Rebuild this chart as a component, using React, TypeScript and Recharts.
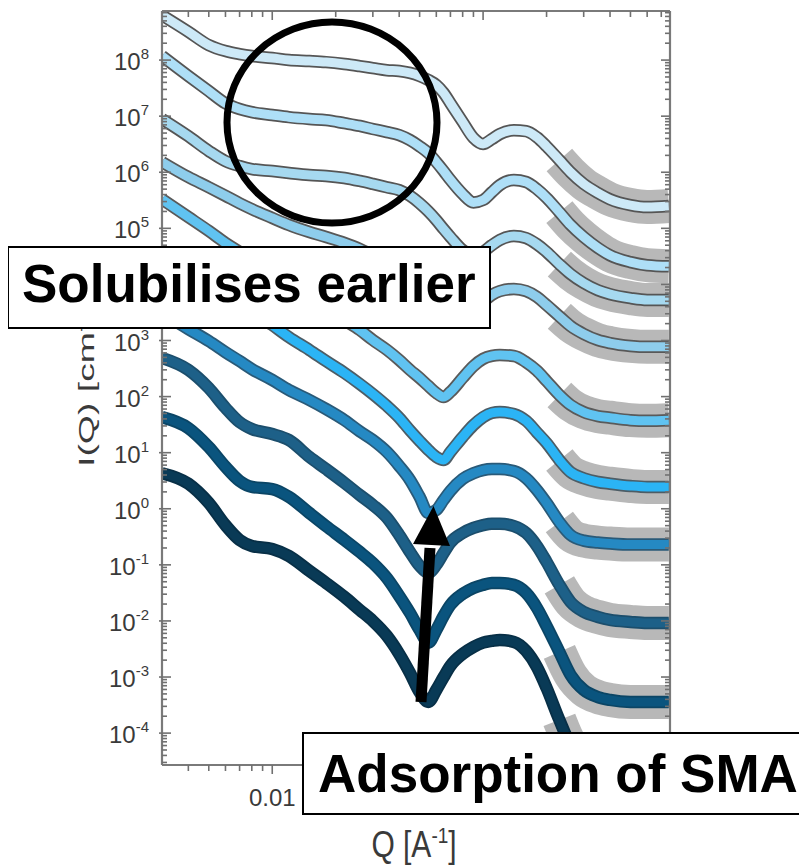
import React from 'react';
import { LineChart, Line, XAxis, YAxis } from 'recharts';

// Scattering vector Q [1/Å]
const Q = [0.003, 0.004, 0.005, 0.006, 0.007, 0.008, 0.01, 0.012, 0.015, 0.018,
  0.022, 0.026, 0.03, 0.035, 0.04, 0.045, 0.05, 0.055, 0.06, 0.065,
  0.07, 0.08, 0.09, 0.1, 0.11, 0.12, 0.14, 0.16, 0.18, 0.2,
  0.23, 0.26, 0.3, 0.35, 0.4, 0.5, 0.6, 0.76];

// Intensities I(Q) [1/cm], top curve first (offset curves)
const C1 = [6.3e8, 3.2e8, 1.85e8, 1.45e8, 1.28e8, 1.18e8, 1.09e8, 1.0e8, 9.6e7, 9.2e7,
  8.5e7, 7.8e7, 7.2e7, 6.6e7, 6.4e7, 5.9e7, 5.2e7, 4.4e7, 3.6e7, 2.6e7,
  1.7e7, 7.9e6, 4.1e6, 3.2e6, 3.9e6, 4.8e6, 5.6e6, 5.4e6, 4.2e6, 2.9e6,
  1.65e6, 1.0e6, 6.2e5, 4.3e5, 3.3e5, 2.6e5, 2.4e5, 2.5e5];
const C2 = [1.18e8, 5.2e7, 2.8e7, 1.7e7, 1.34e7, 1.18e7, 1.05e7, 9.6e6, 8.9e6, 8.5e6,
  7.5e6, 6.7e6, 5.9e6, 5.2e6, 4.6e6, 3.75e6, 2.9e6, 2.2e6, 1.52e6, 1.05e6,
  7.3e5, 4.1e5, 2.9e5, 3.2e5, 4.4e5, 5.9e5, 7.3e5, 6.7e5, 5.0e5, 3.5e5,
  1.95e5, 1.15e5, 7.0e4, 4.5e4, 3.3e4, 2.5e4, 2.2e4, 2.1e4];
const C3 = [8.9e6, 4.4e6, 2.4e6, 1.58e6, 1.29e6, 1.14e6, 1.05e6, 9.7e5, 8.9e5, 8.6e5,
  7.9e5, 7.0e5, 6.2e5, 5.4e5, 4.8e5, 3.8e5, 2.8e5, 2.0e5, 1.4e5, 9.7e4,
  7.0e4, 4.1e4, 3.3e4, 3.8e4, 5.0e4, 6.2e4, 7.3e4, 6.7e4, 5.2e4, 3.8e4,
  2.3e4, 1.53e4, 1.06e4, 7.9e3, 6.7e3, 5.7e3, 5.3e3, 5.3e3];
const C4 = [1.52e6, 8.2e5, 5.4e5, 3.8e5, 2.8e5, 2.2e5, 1.53e5, 1.15e5, 8.6e4, 7.0e4,
  5.5e4, 4.3e4, 3.3e4, 2.5e4, 1.81e4, 1.3e4, 9.4e3, 7.0e3, 5.5e3, 4.3e3,
  3.5e3, 3.0e3, 3.5e3, 4.9e3, 6.5e3, 7.6e3, 8.3e3, 7.6e3, 6.0e3, 4.3e3,
  2.7e3, 1.81e3, 1.31e3, 1.02e3, 900, 800, 770, 770];
const C5 = [3.3e5, 1.59e5, 9.0e4, 5.5e4, 3.8e4, 2.7e4, 1.6e4, 1.02e4, 6.0e3, 3.8e3,
  2.3e3, 1.54e3, 1.02e3, 680, 450, 300, 215, 155, 116, 98,
  121, 215, 350, 470, 530, 550, 530, 410, 290, 190,
  107, 71, 53, 45, 42, 38, 37, 38];
const C6 = [3.0e4, 1.66e4, 1.02e4, 6.7e3, 4.7e3, 3.4e3, 1.89e3, 1.15e3, 680, 430,
  264, 168, 111, 68, 42, 25, 16.2, 11.2, 8.4, 7.4,
  10.3, 19, 31, 43, 51, 53, 49, 37, 23, 14.9,
  7.4, 4.5, 3.5, 3.0, 2.8, 2.55, 2.45, 2.45];
const C7 = [3.1e3, 1.6e3, 980, 620, 430, 310, 198, 131, 87, 60,
  38, 24, 16.8, 10.3, 5.8, 3.26, 1.63, 0.84, 0.95, 1.44,
  2.08, 3.4, 4.3, 4.9, 5.1, 5.1, 4.7, 3.5, 2.16, 1.27,
  0.58, 0.34, 0.27, 0.25, 0.24, 0.23, 0.23, 0.23];
const C8 = [490, 300, 142, 63, 35, 26.5, 21.5, 16.8, 8.4, 5.1,
  2.9, 1.76, 1.17, 0.69, 0.34, 0.17, 0.096, 0.072, 0.1, 0.163,
  0.25, 0.37, 0.455, 0.51, 0.54, 0.54, 0.49, 0.37, 0.217, 0.113,
  0.044, 0.0218, 0.0145, 0.0118, 0.0104, 0.0096, 0.0092, 0.0092];
const C9 = [43, 27.5, 12.6, 5.6, 3.13, 2.45, 2.25, 1.63, 0.84, 0.49,
  0.278, 0.17, 0.108, 0.058, 0.0279, 0.0139, 0.0069, 0.0041, 0.0069, 0.0123,
  0.0193, 0.0303, 0.0388, 0.044, 0.0476, 0.0476, 0.044, 0.0316, 0.0171, 0.0081,
  0.0028, 0.00109, 5.9e-4, 4.4e-4, 3.9e-4, 3.6e-4, 3.6e-4, 3.6e-4];
const C10 = [4.3, 2.8, 1.27, 0.51, 0.278, 0.217, 0.192, 0.144, 0.078, 0.0476,
  0.0268, 0.0157, 0.01, 0.0054, 0.00258, 0.00118, 5.4e-4, 3.6e-4, 5.9e-4, 0.001,
  0.00158, 0.00258, 0.00344, 0.0041, 0.0044, 0.00459, 0.00423, 0.00292, 0.00151, 6.4e-4,
  1.72e-4, 6.2e-5, 4.1e-5, 3.6e-5, 3.6e-5, 3.6e-5, 3.6e-5, 3.6e-5];

const SERIES = [C1, C2, C3, C4, C5, C6, C7, C8, C9, C10];
const COLORS = ['#cde9f7', '#aedff7', '#a6d9f0', '#8ecdec', '#60c3f1', '#2bb4f5',
  '#2589c3', '#1d6088', '#0a547e', '#093a56'];
const OUTLINES = ['#555555', '#555555', '#555555', '#585858', '#5a5a5a', '#4d5d66',
  '#2a5a78', '#1c4e6c', '#0b4565', '#082f46'];
const NOISE_FROM = 0.22; // noisy (grey) region at high Q

const X_MAJOR = [0.01, 0.1];
const X_MINOR = [0.004, 0.005, 0.006, 0.007, 0.008, 0.009,
  0.02, 0.03, 0.04, 0.05, 0.06, 0.07, 0.08, 0.09,
  0.2, 0.3, 0.4, 0.5, 0.6, 0.7];
const X_TICKS = [...X_MINOR, ...X_MAJOR].sort((a, b) => a - b);
// only the labels that are visible (0.1 lies under the annotation box)
const X_LABELS: Record<string, string> = { '0.01': '0.01' };

const Y_EXPONENTS = [-4, -3, -2, -1, 0, 1, 2, 3, 4, 5, 6, 7, 8];
// 10^4 label is hidden under the "Solubilises earlier" box
const Y_HIDDEN_LABELS = [4];
const Y_DOMAIN: [number, number] = [2.7e-5, 7.5e8];
const X_DOMAIN: [number, number] = [0.003, 0.77];

const Y_TICKS: number[] = [];
for (let e = -5; e <= 8; e++) {
  for (let m = 1; m <= 9; m++) {
    const v = m * Math.pow(10, e);
    if (m === 1 && !Y_EXPONENTS.includes(e)) continue;
    if (v >= Y_DOMAIN[0] && v <= Y_DOMAIN[1]) Y_TICKS.push(m === 1 ? Math.pow(10, e) : v);
  }
}

const data = Q.map((q, i) => {
  const row: Record<string, number | null> = { q };
  SERIES.forEach((s, k) => {
    row['c' + (k + 1)] = s[i];
    row['n' + (k + 1)] = q >= NOISE_FROM ? s[i] : null;
  });
  return row;
});

const FONT = '"Liberation Sans", Arial, Helvetica, sans-serif';
const AX = '#707070';
const TXT = '#3a3a3a';

const isMajor = (v: number) => {
  const l = Math.log10(v);
  return Math.abs(l - Math.round(l)) < 1e-9;
};

function BottomTick(p: any) {
  const { x, y, payload } = p;
  const major = isMajor(payload.value);
  const lab = X_LABELS[String(payload.value)];
  return (
    <g>
      <line x1={x} x2={x} y1={y} y2={y + (major ? 9 : 6)} stroke={AX} strokeWidth={1.6} />
      {major && lab && (
        <text x={x} y={y + 41} textAnchor="middle" fontSize={24} fill={TXT} fontFamily={FONT}>{lab}</text>
      )}
    </g>
  );
}

function TopTick(p: any) {
  const { x, y, payload } = p;
  const major = isMajor(payload.value);
  return <line x1={x} x2={x} y1={y} y2={y + (major ? 9 : 6)} stroke={AX} strokeWidth={1.6} />;
}

function LeftTick(p: any) {
  const { x, y, payload } = p;
  const major = isMajor(payload.value);
  const e = Math.round(Math.log10(payload.value));
  const showLabel = major && !Y_HIDDEN_LABELS.includes(e);
  return (
    <g>
      <line x1={major ? x - 3 : x} x2={x + (major ? 9 : 5)} y1={y} y2={y} stroke={AX} strokeWidth={1.6} />
      {showLabel && (
        <text x={x - 13} y={y + 10} textAnchor="end" fontSize={24} fill={TXT} fontFamily={FONT}>
          <tspan>10</tspan>
          <tspan dy={-11} fontSize={15}>{String(e)}</tspan>
        </text>
      )}
    </g>
  );
}

function RightTick(p: any) {
  const { x, y, payload } = p;
  const major = isMajor(payload.value);
  return <line x1={x} x2={x - (major ? 9 : 5)} y1={y} y2={y} stroke={AX} strokeWidth={1.6} />;
}

const axisLine = { stroke: '#7a7a7a', strokeWidth: 2.2 };

export default function App() {
  return (
    <div style={{ position: 'relative', width: 799, height: 858 }}>
      <LineChart width={799} height={858} data={data} margin={{ top: 2, right: 136, left: 0, bottom: 0 }}>
        <XAxis dataKey="q" type="number" scale="log" domain={X_DOMAIN} allowDataOverflow
          ticks={X_TICKS} interval={0} tickLine={false} tickSize={0} tickMargin={0}
          height={101} axisLine={axisLine} tick={(p: any) => <BottomTick {...p} />} />
        <XAxis xAxisId="top" orientation="top" dataKey="q" type="number" scale="log" domain={X_DOMAIN}
          allowDataOverflow ticks={X_TICKS} interval={0} tickLine={false} tickSize={0} tickMargin={0}
          height={1} axisLine={axisLine} tick={(p: any) => <TopTick {...p} />} />
        <YAxis type="number" scale="log" domain={Y_DOMAIN} allowDataOverflow ticks={Y_TICKS}
          interval={0} tickLine={false} tickSize={0} tickMargin={0} width={154}
          axisLine={axisLine} tick={(p: any) => <LeftTick {...p} />} />
        <YAxis yAxisId="right" orientation="right" type="number" scale="log" domain={Y_DOMAIN}
          allowDataOverflow ticks={Y_TICKS} interval={0} tickLine={false} tickSize={0} tickMargin={0}
          width={1} axisLine={axisLine} tick={(p: any) => <RightTick {...p} />} />
        {SERIES.map((_, k) => (
          <Line key={'n' + k} dataKey={'n' + (k + 1)} type="monotone" stroke="#b8b8b8"
            strokeWidth={34} strokeLinecap="butt" dot={false} isAnimationActive={false} connectNulls={false} />
        ))}
        {SERIES.map((_, k) => (
          <Line key={'o' + k} dataKey={'c' + (k + 1)} type="monotone" stroke={OUTLINES[k]}
            strokeWidth={12.5} dot={false} isAnimationActive={false} />
        ))}
        {SERIES.map((_, k) => (
          <Line key={'c' + k} dataKey={'c' + (k + 1)} type="monotone" stroke={COLORS[k]}
            strokeWidth={9} dot={false} isAnimationActive={false} />
        ))}
      </LineChart>
      <svg width={807} height={866} style={{ position: 'absolute', left: -8, top: -8, pointerEvents: 'none' }}>
        <text transform="translate(94,467) rotate(-90) scale(1.7,1)" fontSize={22} fill={TXT} fontFamily={FONT}>
          I(Q) [cm<tspan dy={-8} fontSize={14}>-1</tspan><tspan dy={8}>]</tspan>
        </text>
        <text transform="translate(414,857) scale(1,1.2)" textAnchor="middle" fontSize={30} fill={TXT} fontFamily={FONT}>
          Q [A<tspan dy={-12} fontSize={19}>-1</tspan><tspan dy={12}>]</tspan>
        </text>
        <ellipse cx={332} cy={122.5} rx={105} ry={100.5} fill="none" stroke="#000" strokeWidth={7} />
        <rect x={8} y={247} width={482} height={81} fill="#fff" stroke="#000" strokeWidth={2} />
        <text x={22} y={302} fontSize={53} fontWeight="bold" fill="#000" fontFamily={FONT}>Solubilises earlier</text>
        <line x1={421} y1={702} x2={430} y2={548} stroke="#000" strokeWidth={11} />
        <polygon points="433.5,506 450,546 413,544" fill="#000" />
        <rect x={303} y={733} width={510} height={81} fill="#fff" stroke="#000" strokeWidth={2} />
        <text x={318} y={792} fontSize={53} fontWeight="bold" fill="#000" fontFamily={FONT}>Adsorption of SMA</text>
      </svg>
    </div>
  );
}
